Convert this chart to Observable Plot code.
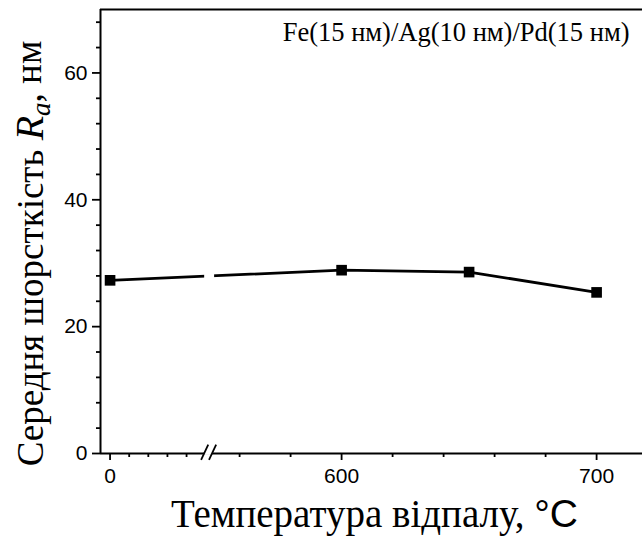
<!DOCTYPE html>
<html><head><meta charset="utf-8">
<script src="https://cdn.jsdelivr.net/npm/d3@7"></script>
<script src="https://cdn.jsdelivr.net/npm/@observablehq/plot@0.6"></script>
<style>body{margin:0;background:#fff;}</style>
</head><body><div id="chart"></div>
<script>
const temperatures = [0, 600, 650, 700];
const roughness = [27.3, 28.9, 28.6, 25.4];
const xMajorTicks = [0, 600, 700];
const xMinorTicks = [10, 20, 30, 40, 560, 580, 620, 640, 660, 680];
const yMajorTicks = [0, 20, 40, 60];
const yMinorTicks = [4, 8, 12, 16, 24, 28, 32, 36, 44, 48, 52, 56, 64, 68];
const breakLow = 50, breakHigh = 550;
const xTitleMain = "Температура відпалу, ";
const xTitleUnit = "°C";
const yTitleParts = ["Середня шорсткість ", "R", "a", ", нм"];
const annotation = "Fe(15 нм)/Ag(10 нм)/Pd(15 нм)";

// broken axis: lower segment compressed, upper segment 1:1
function pos(t) { return t <= breakLow ? t * 0.75 : t - 509.2; }

const data = temperatures.map((t, i) => ({u: pos(t), r: roughness[i]}));
const xMin = pos(-5), xMax = pos(718);
const serif = "'Liberation Serif', 'Times New Roman', serif";
const sans = "'Liberation Sans', Arial, sans-serif";

const chart = Plot.plot({
  width: 642, height: 536,
  marginLeft: 100, marginRight: 0, marginTop: 9, marginBottom: 83,
  x: {type: "linear", domain: [xMin, xMax]},
  y: {domain: [0, 70]},
  style: {fontFamily: sans, fontSize: "21px", color: "black", background: "white", overflow: "visible"},
  marks: [
    Plot.axisY({ticks: yMajorTicks, tickSize: 8, tickPadding: 5, label: null, strokeWidth: 1.8, tickFormat: d => String(d)}),
    Plot.axisY({ticks: yMinorTicks, tickSize: 4, label: null, strokeWidth: 1.8, tickFormat: () => ""}),
    Plot.axisX({ticks: xMajorTicks.map(pos), tickSize: 7, tickPadding: 8, label: null, strokeWidth: 1.8,
      tickFormat: u => String(xMajorTicks[xMajorTicks.map(pos).indexOf(u)])}),
    Plot.axisX({ticks: xMinorTicks.map(pos), tickSize: 4, label: null, strokeWidth: 1.8, tickFormat: () => ""}),
    Plot.ruleX([xMin], {strokeWidth: 2}),
    Plot.ruleY([0], {strokeWidth: 2}),
    Plot.ruleY([70], {strokeWidth: 2}),
    // axis break
    Plot.rect([0], {x1: pos(breakLow) - 0.4, x2: pos(breakHigh) - 0.6, y1: -0.3, y2: 0.3, fill: "white"}),
    Plot.link([pos(breakLow) - 0.4, pos(breakHigh) - 0.6], {x1: d => d - 1.4, x2: d => d + 1.4, y1: -1, y2: 1.4, stroke: "black", strokeWidth: 1.8}),
    Plot.line(data, {x: "u", y: "r", stroke: "black", strokeWidth: 2.8}),
    Plot.rect([0], {x1: pos(breakLow) - 0.4, x2: pos(breakHigh) + 0.2, y1: 24, y2: 32, fill: "white"}),
    Plot.dot(data, {x: "u", y: "r", symbol: "square", fill: "black", r: 6}),
    Plot.text([annotation], {frameAnchor: "top-right", dx: -13, dy: 13, textAnchor: "end", fontFamily: serif, fontSize: 26.5}),
    Plot.text([yTitleParts.join("")], {frameAnchor: "left", rotate: -90, textAnchor: "middle", lineAnchor: "middle", dx: -69, dy: 22, fontFamily: serif, fontSize: 37, className: "ytitle"}),
    Plot.text([xTitleMain + xTitleUnit], {frameAnchor: "bottom", textAnchor: "middle", lineAnchor: "middle", dx: 3, dy: 61.5, fontFamily: serif, fontSize: 39, className: "xtitle"})
  ]
});

// rich text for titles
const yt = d3.select(chart).select(".ytitle text");
yt.text(null);
yt.append("tspan").text(yTitleParts[0]);
yt.append("tspan").attr("font-style", "italic").attr("font-size", 40).text(yTitleParts[1]);
yt.append("tspan").attr("font-style", "italic").attr("font-size", 27).attr("dy", "0.25em").text(yTitleParts[2]);
yt.append("tspan").attr("dy", "-0.25em").text(yTitleParts[3]);
const xt = d3.select(chart).select(".xtitle text");
xt.text(null);
xt.append("tspan").text(xTitleMain);
xt.append("tspan").attr("font-family", sans).text(xTitleUnit);

document.getElementById("chart").appendChild(chart);
</script>
</body></html>
